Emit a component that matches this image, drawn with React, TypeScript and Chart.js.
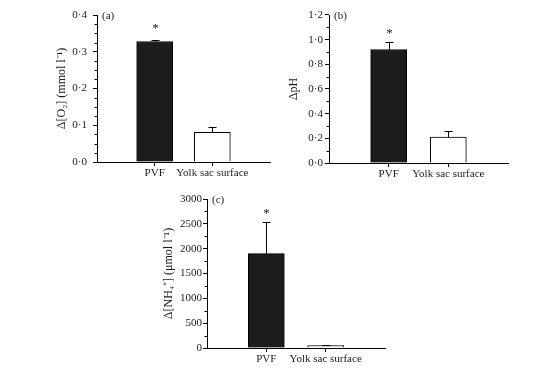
import React, { useEffect, useRef } from 'react';
import { Chart, registerables } from 'chart.js';

Chart.register(...registerables);

// ---- Data ----
const categories = ['PVF', 'Yolk sac surface'];

const o2Values = [0.328, 0.081];
const o2Errors = [0.004, 0.014];
const o2Range = [0, 0.4];
const o2MajorStep = 0.1;
const o2MinorStep = 0.025;

const phValues = [0.92, 0.21];
const phErrors = [0.06, 0.05];
const phRange = [0, 1.2];
const phMajorStep = 0.2;
const phMinorStep = 0.1;

const nh4Values = [1900, 50];
const nh4Errors = [630, 15];
const nh4Range = [0, 3000];
const nh4MajorStep = 500;
const nh4MinorStep = 250;

const significant = [true, false];

const FONT = "'Liberation Serif', 'Times New Roman', serif";
const TEXT = '#1a1a1a';

type PanelDef = {
  values: number[];
  errors: number[];
  range: number[];
  major: number;
  minor: number;
  decimals: number;
  title: string;
  panelLabel: string;
  box: { left: number; top: number; width: number; height: number };
  yAxisWidth: number;
  xAxisHeight: number;
  padTop: number;
  tickPad: number;
  starGap: number;
};

const panels: PanelDef[] = [
  {
    values: o2Values, errors: o2Errors, range: o2Range, major: o2MajorStep, minor: o2MinorStep,
    decimals: 1, title: 'Δ[O₂] (mmol l⁻¹)', panelLabel: '(a)',
    box: { left: 55, top: 0, width: 216, height: 185 }, yAxisWidth: 42, xAxisHeight: 23, padTop: 15, tickPad: 6,
    starGap: 9,
  },
  {
    values: phValues, errors: phErrors, range: phRange, major: phMajorStep, minor: phMinorStep,
    decimals: 1, title: 'ΔpH', panelLabel: '(b)',
    box: { left: 287, top: 0, width: 222, height: 185 }, yAxisWidth: 42, xAxisHeight: 22, padTop: 15, tickPad: 2,
    starGap: 6,
  },
  {
    values: nh4Values, errors: nh4Errors, range: nh4Range, major: nh4MajorStep, minor: nh4MinorStep,
    decimals: 0, title: 'Δ[NH₄⁺] (μmol l⁻¹)', panelLabel: '(c)',
    box: { left: 162, top: 185, width: 224, height: 187 }, yAxisWidth: 45, xAxisHeight: 24, padTop: 14, tickPad: 1,
    starGap: 6,
  },
];

const isMajor = (v: number, major: number) => Math.abs(v / major - Math.round(v / major)) < 1e-6;

const overlayPlugin = {
  id: 'overlay',
  afterDatasetsDraw(chart: any, _args: any, p: any) {
    const { ctx, chartArea } = chart;
    const x = chart.scales.x;
    const y = chart.scales.y;
    ctx.save();
    ctx.strokeStyle = '#000';
    ctx.lineWidth = 1;
    // minor ticks
    const n = Math.round((p.max - p.min) / p.minor);
    for (let i = 0; i <= n; i++) {
      const v = p.min + i * p.minor;
      if (isMajor(v, p.major)) continue;
      const yp = Math.round(y.getPixelForValue(v)) + 0.5;
      ctx.beginPath();
      ctx.moveTo(chartArea.left - 2.5, yp);
      ctx.lineTo(chartArea.left, yp);
      ctx.stroke();
    }
    // error bars + stars
    p.values.forEach((val: number, i: number) => {
      const xp = Math.round(x.getPixelForValue(i + 1)) + 0.5;
      const yb = y.getPixelForValue(val);
      const yt = Math.round(y.getPixelForValue(val + p.errors[i])) + 0.5;
      ctx.strokeStyle = '#000';
      ctx.beginPath();
      ctx.moveTo(xp, yb);
      ctx.lineTo(xp, yt);
      ctx.moveTo(xp - 4, yt);
      ctx.lineTo(xp + 4, yt);
      ctx.stroke();
      if (p.significant[i]) {
        ctx.fillStyle = TEXT;
        ctx.font = `13px ${FONT}`;
        ctx.textAlign = 'center';
        ctx.textBaseline = 'alphabetic';
        ctx.fillText('*', xp, yt - p.starGap);
      }
    });
    // panel label
    ctx.fillStyle = TEXT;
    ctx.font = `11px ${FONT}`;
    ctx.textAlign = 'left';
    ctx.textBaseline = 'middle';
    ctx.fillText(p.label, chartArea.left + 5, chartArea.top + 1);
    ctx.restore();
  },
};

function Panel({ def }: { def: PanelDef }) {
  const ref = useRef<HTMLCanvasElement>(null);
  useEffect(() => {
    if (!ref.current) return;
    const labels = ['', ...categories, ''];
    const data = [null, ...def.values, null];
    const colors = ['#000', '#1c1c1c', '#ffffff', '#000'];
    const [min, max] = def.range;
    const tickValues: number[] = [];
    const n = Math.round((max - min) / def.major);
    for (let i = 0; i <= n; i++) tickValues.push(min + i * def.major);

    const chart = new Chart(ref.current, {
      type: 'bar',
      data: {
        labels,
        datasets: [
          {
            data: data as any,
            backgroundColor: colors,
            borderColor: '#000',
            borderWidth: 1,
            borderSkipped: 'bottom',
            barThickness: 36,
          },
        ],
      },
      plugins: [overlayPlugin as any],
      options: {
        responsive: false,
        animation: false,
        devicePixelRatio: 1,
        layout: { padding: { top: def.padTop, right: 1, left: 0, bottom: 0 } },
        plugins: {
          legend: { display: false },
          tooltip: { enabled: false },
          overlay: {
            values: def.values,
            errors: def.errors,
            min, max,
            major: def.major,
            minor: def.minor,
            label: def.panelLabel,
            significant,
            starGap: def.starGap,
          },
        } as any,
        scales: {
          x: {
            type: 'category',
            offset: false,
            grid: {
              display: true,
              offset: false,
              drawOnChartArea: false,
              drawTicks: true,
              tickLength: 4,
              color: (c: any) => (c.index === 0 || c.index === labels.length - 1 ? 'rgba(0,0,0,0)' : '#000'),
            },
            border: { display: true, color: '#000', width: 1 },
            ticks: {
              autoSkip: false,
              maxRotation: 0,
              padding: 1,
              color: TEXT,
              font: { family: FONT, size: 11 },
            },
            afterFit: (s: any) => { s.height = def.xAxisHeight; },
          },
          y: {
            min,
            max,
            grid: {
              display: true,
              drawOnChartArea: false,
              drawTicks: true,
              tickLength: 4,
              color: '#000',
            },
            border: { display: true, color: '#000', width: 1 },
            afterBuildTicks: (s: any) => { s.ticks = tickValues.map((v) => ({ value: v })); },
            ticks: {
              autoSkip: false,
              padding: def.tickPad,
              color: TEXT,
              font: { family: FONT, size: 11 },
              callback: (v: any) => Number(v).toFixed(def.decimals).replace('.', '·'),
            },
            title: {
              display: true,
              text: def.title,
              color: TEXT,
              font: { family: FONT, size: 12 },
              padding: 0,
            },
            afterFit: (s: any) => { s.width = def.yAxisWidth; },
          },
        },
      },
    });
    return () => chart.destroy();
  }, [def]);
  return (
    <canvas
      ref={ref}
      width={def.box.width}
      height={def.box.height}
      style={{
        position: 'absolute',
        left: def.box.left,
        top: def.box.top,
        width: def.box.width,
        height: def.box.height,
      }}
    />
  );
}

export default function App() {
  return (
    <div
      style={{
        position: 'fixed',
        left: 0,
        top: 0,
        width: 535,
        height: 372,
        background: '#fff',
        overflow: 'hidden',
      }}
    >
      {panels.map((d, i) => (
        <Panel key={i} def={d} />
      ))}
    </div>
  );
}
